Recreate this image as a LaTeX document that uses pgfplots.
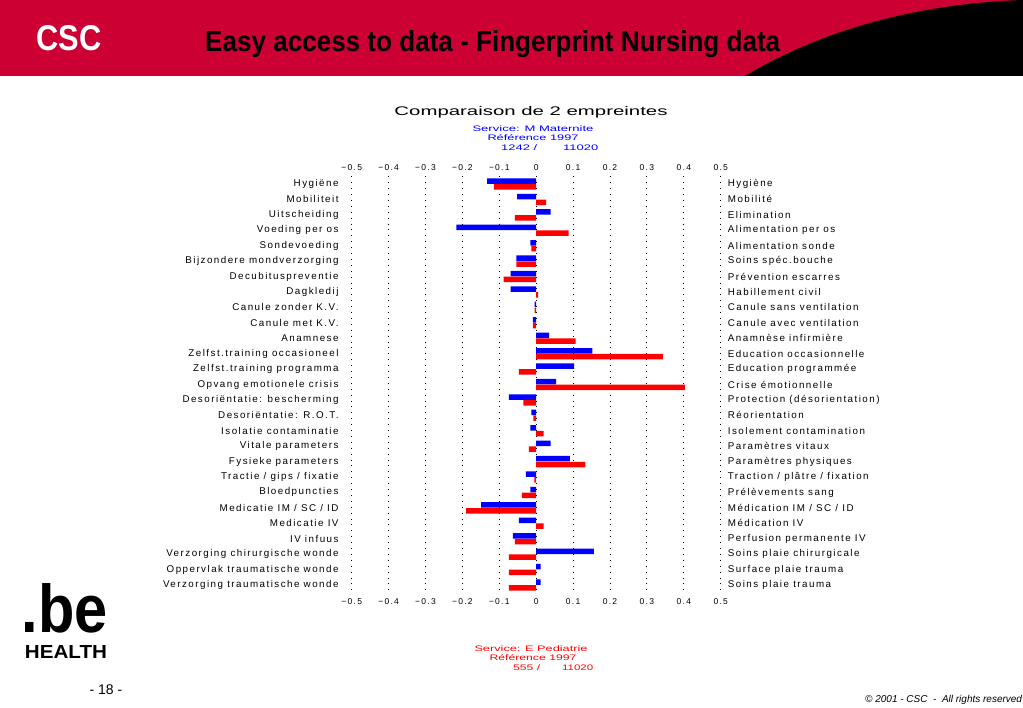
\documentclass[border=0pt]{standalone}
\usepackage{pgfplots}
\usepackage{pgfplotstable}
\pgfplotsset{compat=1.18}
\usepackage{fontspec}
\setmainfont{Liberation Sans}
\newfontfamily\chartfont[LetterSpace=15]{Liberation Sans}
\definecolor{cscred}{RGB}{204,0,51}
\definecolor{barblue}{RGB}{0,0,255}
\definecolor{barred}{RGB}{255,0,0}

\pgfplotstableread{
i b r
1 -0.133 -0.115
2 -0.052 0.027
3 0.039 -0.058
4 -0.216 0.088
5 -0.016 -0.013
6 -0.054 -0.054
7 -0.069 -0.088
8 -0.069 0.005
9 -0.004 -0.004
10 -0.009 -0.009
11 0.035 0.107
12 0.152 0.343
13 0.103 -0.047
14 0.054 0.403
15 -0.074 -0.035
16 -0.013 -0.008
17 -0.016 0.020
18 0.039 -0.020
19 0.091 0.133
20 -0.028 -0.005
21 -0.016 -0.039
22 -0.149 -0.190
23 -0.047 0.020
24 -0.063 -0.058
25 0.156 -0.074
26 0.012 -0.074
27 0.012 -0.074
}\data

\begin{document}
\begin{tikzpicture}
\clip (0pt,0pt) rectangle (1023pt,-708pt);
\fill[white] (0pt,0pt) rectangle (1023pt,-708pt);
% header band
\fill[cscred] (0pt,0pt) rectangle (1023pt,-76pt);
\fill[black] (745pt,-76pt) .. controls (830pt,-25pt) and (930pt,-3pt) .. (1023pt,0pt) -- (1023pt,-76pt) -- cycle;
\node[white, inner sep=0pt] at (69pt,-38pt) {\resizebox{65pt}{25pt}{\bfseries CSC}};
\node[anchor=base west, inner sep=0pt] at (205pt,-52pt) {\resizebox{575pt}{21pt}{\fontsize{24}{24}\selectfont\bfseries Easy access to data - Fingerprint Nursing data}};
% .be logo
\node[anchor=base, inner sep=0pt] at (65pt,-632pt) {\resizebox{86pt}{49pt}{\bfseries .be}};
\node[anchor=base, inner sep=0pt] at (66pt,-658pt) {\resizebox{82pt}{13pt}{\bfseries HEALTH}};
\node[inner sep=0pt] at (106pt,-690pt) {\fontsize{14}{14}\selectfont - 18 -};
\node[anchor=west, inner sep=0pt] at (865pt,-700pt) {\fontsize{10}{10}\selectfont\itshape \textcopyright{} 2001 - CSC \ - \ All rights reserved};
% chart titles
\node[inner sep=0pt] at (531pt,-112pt) {\resizebox{273pt}{\height}{\fontsize{12.5}{13}\selectfont Comparaison de 2 empreintes}};
\node[inner sep=0pt, text=barblue] at (533pt,-128.5pt) {\resizebox{121pt}{\height}{\fontsize{8}{8}\selectfont Service: M Maternite}};
\node[inner sep=0pt, text=barblue] at (533pt,-137.5pt) {\resizebox{91pt}{\height}{\fontsize{8}{8}\selectfont Référence 1997}};
\node[inner sep=0pt, text=barblue, anchor=west] at (501pt,-147.5pt) {\resizebox{36pt}{\height}{\fontsize{8}{8}\selectfont 1242 /}};
\node[inner sep=0pt, text=barblue, anchor=west] at (563pt,-147.5pt) {\resizebox{35pt}{\height}{\fontsize{8}{8}\selectfont 11020}};
\node[inner sep=0pt, text=barred] at (531pt,-649pt) {\resizebox{113pt}{\height}{\fontsize{8}{8}\selectfont Service: E Pediatrie}};
\node[inner sep=0pt, text=barred] at (533pt,-657.5pt) {\resizebox{87pt}{\height}{\fontsize{8}{8}\selectfont Référence 1997}};
\node[inner sep=0pt, text=barred, anchor=west] at (513pt,-667.5pt) {\resizebox{27pt}{\height}{\fontsize{8}{8}\selectfont 555 /}};
\node[inner sep=0pt, text=barred, anchor=west] at (562pt,-667.5pt) {\resizebox{31pt}{\height}{\fontsize{8}{8}\selectfont 11020}};

\begin{axis}[
  at={(351.7pt,-176.3pt)}, anchor=north west,
  scale only axis, width=369pt, height=416.4pt,
  xmin=-0.5, xmax=0.5, ymin=0.5, ymax=27.5, y dir=reverse,
  axis line style={draw=none}, major tick style={draw=none},
  xtick={-0.5,-0.4,-0.3,-0.2,-0.1,0,0.1,0.2,0.3,0.4,0.5},
  xticklabels={−0.5,−0.4,−0.3,−0.2,−0.1,0,0.1,0.2,0.3,0.4,0.5},
  xticklabel pos=right,
  xticklabel style={font=\chartfont\fontsize{8.5}{9}\selectfont, anchor=south, inner sep=0pt, yshift=5.5pt},
  xmajorgrids, major grid style={black, line width=0.9pt, dash pattern=on 0.9pt off 5pt},
  ytick={1,...,27},
  yticklabels={Hygiëne, Mobiliteit, Uitscheiding, Voeding per os, Sondevoeding, Bijzondere mondverzorging, Decubituspreventie, Dagkledij, Canule zonder K.V., Canule met K.V., Anamnese, Zelfst.training occasioneel, Zelfst.training programma, Opvang emotionele crisis, Desoriëntatie: bescherming, Desoriëntatie: R.O.T., Isolatie contaminatie, Vitale parameters, Fysieke parameters, Tractie / gips / fixatie, Bloedpuncties, Medicatie IM / SC / ID, Medicatie IV, IV infuus, Verzorging chirurgische wonde, Oppervlak traumatische wonde, Verzorging traumatische wonde},
  yticklabel style={font=\chartfont\fontsize{9.8}{10}\selectfont, anchor=east, inner sep=0pt, xshift=-13pt},
]
\addplot[xbar, bar width=5.5pt, bar shift=2.9pt, fill=barblue, draw=none] table[x=b,y=i]{\data};
\addplot[xbar, bar width=5.5pt, bar shift=-2.9pt, fill=barred, draw=none] table[x=r,y=i]{\data};
\end{axis}

\begin{axis}[
  at={(351.7pt,-176.3pt)}, anchor=north west,
  scale only axis, width=369pt, height=416.4pt,
  xmin=-0.5, xmax=0.5, ymin=0.5, ymax=27.5, y dir=reverse,
  axis line style={draw=none}, major tick style={draw=none},
  xtick={-0.5,-0.4,-0.3,-0.2,-0.1,0,0.1,0.2,0.3,0.4,0.5},
  xticklabels={−0.5,−0.4,−0.3,−0.2,−0.1,0,0.1,0.2,0.3,0.4,0.5},
  xticklabel pos=left,
  xticklabel style={font=\chartfont\fontsize{8.5}{9}\selectfont, anchor=north, inner sep=0pt, yshift=-5.5pt},
  ytick={1,...,27},
  yticklabel pos=right,
  yticklabels={Hygiène, Mobilité, Elimination, Alimentation per os, Alimentation sonde, Soins spéc.bouche, Prévention escarres, Habillement civil, Canule sans ventilation, Canule avec ventilation, Anamnèse infirmière, Education occasionnelle, Education programmée, Crise émotionnelle, Protection (désorientation), Réorientation, Isolement contamination, Paramètres vitaux, Paramètres physiques, Traction / plâtre / fixation, Prélèvements sang, Médication IM / SC / ID, Médication IV, Perfusion permanente IV, Soins plaie chirurgicale, Surface plaie trauma, Soins plaie trauma},
  yticklabel style={font=\chartfont\fontsize{9.8}{10}\selectfont, anchor=west, inner sep=0pt, xshift=7pt},
]
\end{axis}
\end{tikzpicture}
\end{document}
